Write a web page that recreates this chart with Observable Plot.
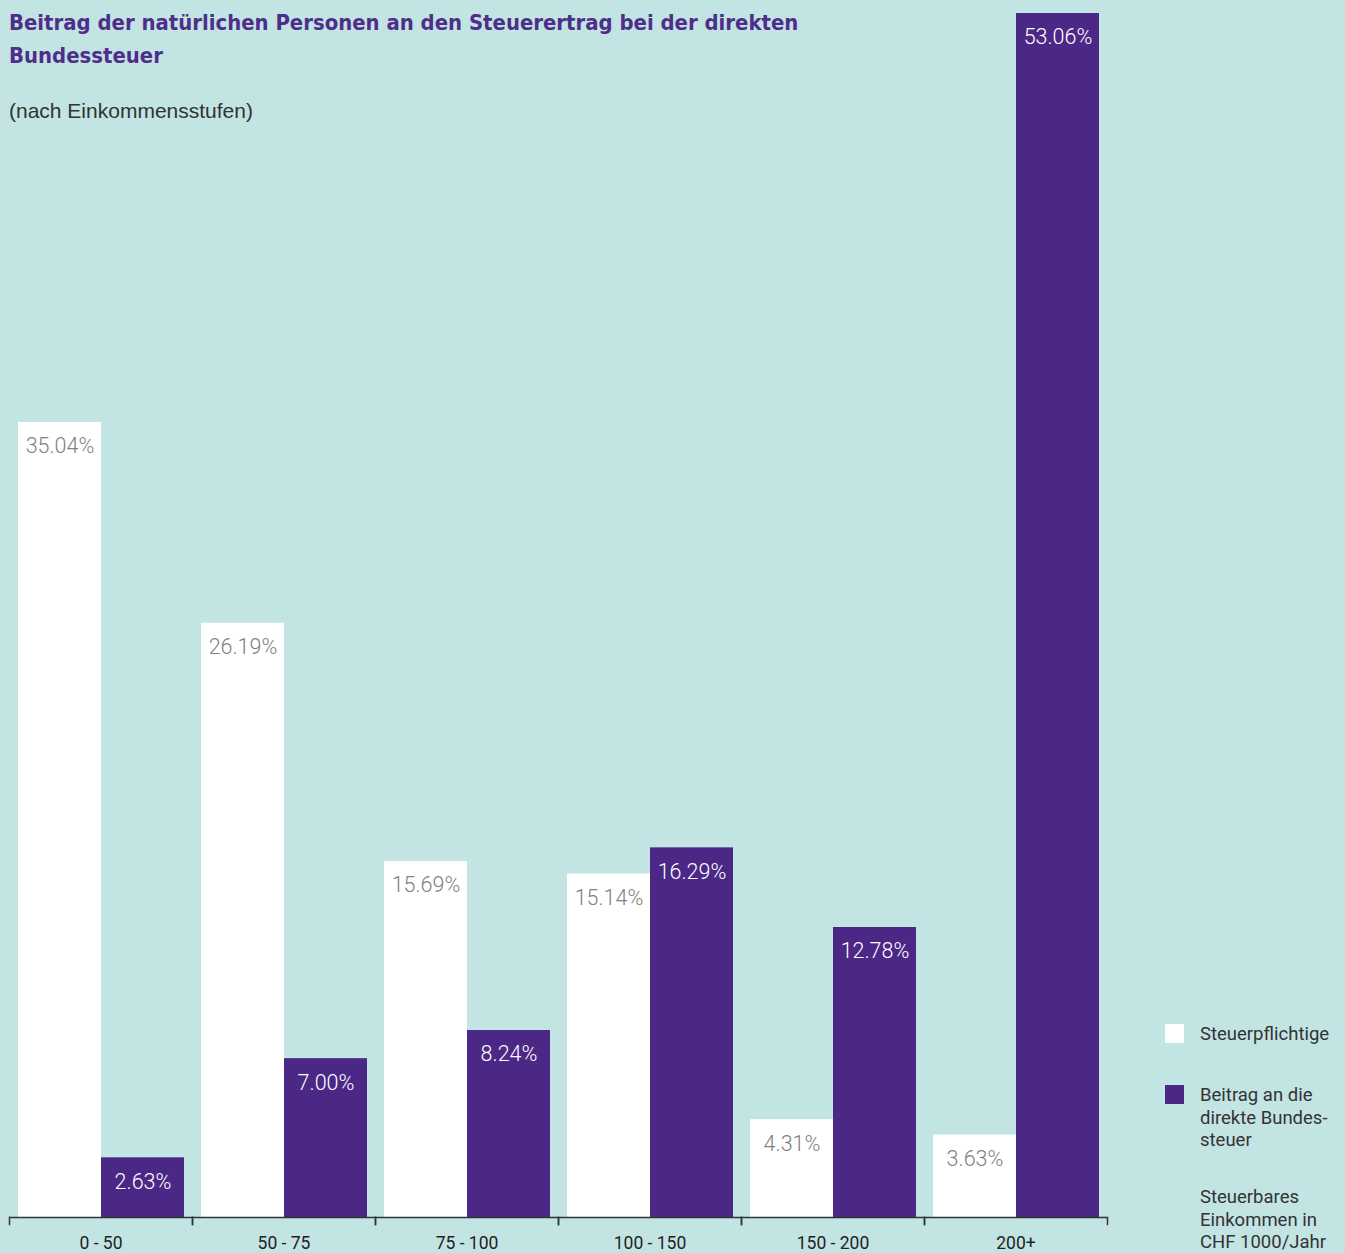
<!DOCTYPE html>
<html>
<head>
<meta charset="utf-8">
<script src="https://cdn.jsdelivr.net/npm/d3@7"></script>
<script src="https://cdn.jsdelivr.net/npm/@observablehq/plot@0.6"></script>
<style>
  html, body { margin: 0; padding: 0; background: #c2e4e3; }
  #wrap { position: relative; width: 1345px; height: 1253px; overflow: hidden; background: #c2e4e3; }
  #title { position: absolute; left: 9px; top: 6px; width: 900px; font-family: "DejaVu Sans Condensed", "Liberation Sans", sans-serif; font-weight: bold; font-size: 21.9px; line-height: 33px; color: #4f2d8a; }
  #subtitle { position: absolute; left: 9px; top: 99px; font-family: "Liberation Sans", sans-serif; font-size: 21px; color: #333; }
  .legend { position: absolute; left: 1165px; font-family: Roboto, "Liberation Sans", sans-serif; font-size: 18.5px; line-height: 22.5px; color: #333; }
  .legend .sw { position: absolute; left: 0; top: 1px; width: 19px; height: 19px; }
  .legend .tx { position: absolute; left: 35px; top: 0; width: 180px; }
  #chart { position: absolute; left: 0; top: 0; }
</style>
</head>
<body>
<div id="wrap">
  <div id="chart"></div>
  <div id="title">Beitrag der natürlichen Personen an den Steuerertrag bei der direkten<br>Bundessteuer</div>
  <div id="subtitle">(nach Einkommensstufen)</div>
  <div class="legend" style="top:1023px"><div class="sw" style="background:#ffffff"></div><div class="tx">Steuerpflichtige</div></div>
  <div class="legend" style="top:1084px"><div class="sw" style="background:#4b2885"></div><div class="tx">Beitrag an die<br>direkte Bundes-<br>steuer</div></div>
  <div class="legend" style="top:1186px"><div class="tx">Steuerbares<br>Einkommen in<br>CHF 1000/Jahr</div></div>
</div>
<script>
const categories = ["0 - 50", "50 - 75", "75 - 100", "100 - 150", "150 - 200", "200+"];
const seriesNames = ["Steuerpflichtige", "Beitrag an die direkte Bundessteuer"];
const steuerpflichtige = [35.04, 26.19, 15.69, 15.14, 4.31, 3.63];
const beitrag = [2.63, 7.00, 8.24, 16.29, 12.78, 53.06];
const seriesColors = ["#ffffff", "#4b2885"];
const labelColors = ["#808080", "#ffffff"];

const data = [];
categories.forEach((c, i) => {
  data.push({cat: c, series: seriesNames[0], value: steuerpflichtige[i]});
  data.push({cat: c, series: seriesNames[1], value: beitrag[i]});
});

const W = 1345, H = 1253;
const mTop = 13, mBottom = 36, mLeft = 8, mRight = 238;
const innerH = H - mTop - mBottom;

const fmt = v => v.toFixed(2) + "%";

const chart = Plot.plot({
  width: W,
  height: H,
  marginTop: mTop,
  marginBottom: mBottom,
  marginLeft: mLeft,
  marginRight: mRight,
  style: {background: "transparent", fontFamily: "Roboto, 'Liberation Sans', sans-serif"},
  fx: {domain: categories, padding: 0, label: null},
  x: {domain: seriesNames, paddingInner: 0, paddingOuter: 0.096, axis: null},
  y: {domain: [0, 53.06], axis: null},
  color: {domain: seriesNames, range: seriesColors},
  marks: [
    Plot.axisFx({anchor: "bottom", tickSize: 0, tickPadding: 19, fontSize: 17.5, fill: "#222", label: null}),
    Plot.barY(data, {fx: "cat", x: "series", y: "value", fill: "series"}),
    Plot.text(data, {
      fx: "cat", x: "series", y: "value", text: d => fmt(d.value),
      dy: 24, lineAnchor: "middle", fontSize: 21.5, fontWeight: 300,
      fill: d => labelColors[seriesNames.indexOf(d.series)]
    }),
    Plot.ruleY([0], {stroke: "#333", strokeWidth: 1.5}),
    Plot.frame({anchor: "left", stroke: "#333", strokeWidth: 1.5, insetTop: innerH, insetBottom: -7}),
    Plot.frame({anchor: "right", stroke: "#333", strokeWidth: 1.5, insetTop: innerH, insetBottom: -7})
  ]
});
document.getElementById("chart").appendChild(chart);
</script>
</body>
</html>
